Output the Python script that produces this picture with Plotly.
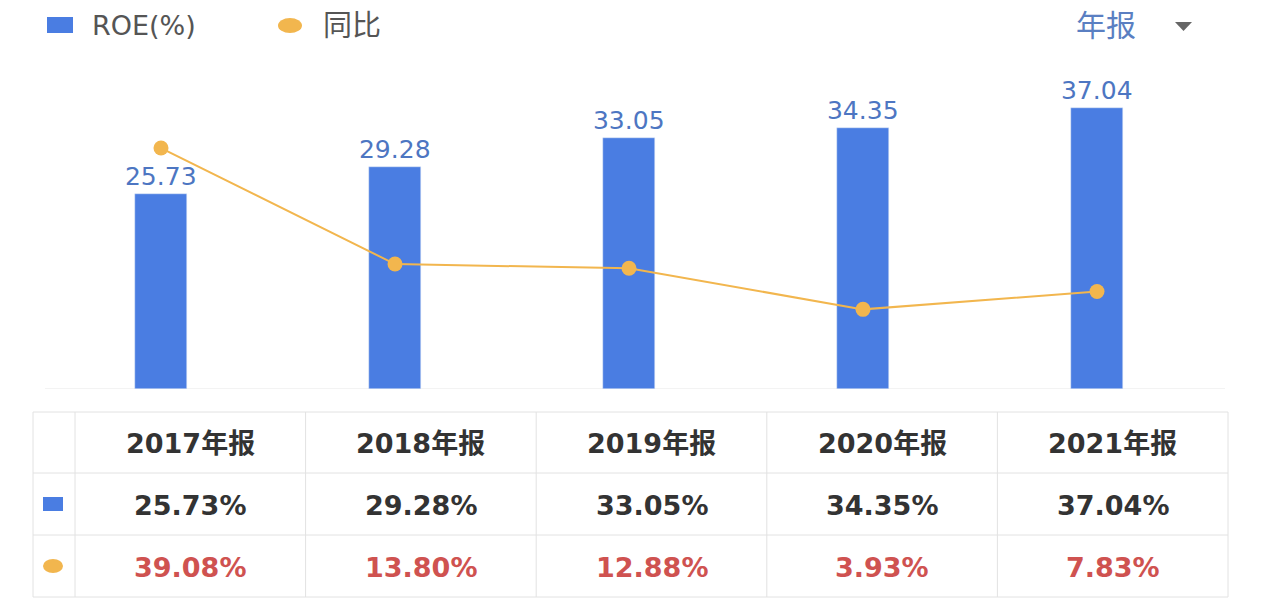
import plotly.graph_objects as go

# ---------------- data ----------------
years = ["2017年报", "2018年报", "2019年报", "2020年报", "2021年报"]
roe = [25.73, 29.28, 33.05, 34.35, 37.04]
yoy = [39.08, 13.80, 12.88, 3.93, 7.83]
roe_name = "ROE(%)"
yoy_name = "同比"
period_label = "年报"

# ---------------- style ----------------
W, H = 1269, 608
BLUE = "#4a7de2"
ORANGE = "#f2b64e"
LABEL_BLUE = "#4d76c2"
GRID = "#e2e2e2"
DARK = "#333333"
RED = "#cf5250"
FONT = "DejaVu Sans, Noto Sans CJK SC, sans-serif"


def fx(px):
    return px / W


def fy(py):
    return 1 - py / H


fig = go.Figure()
fig.add_trace(go.Bar(
    x=years, y=roe, name=roe_name, width=0.222, marker_color=BLUE,
    text=[f"{v:.2f}" for v in roe], textposition="outside", constraintext="none",
    textfont=dict(color=LABEL_BLUE, size=25, family=FONT),
    cliponaxis=False, yaxis="y", hoverinfo="skip", showlegend=False,
))
fig.add_trace(go.Scatter(
    x=years, y=yoy, name=yoy_name, mode="lines+markers",
    line=dict(color=ORANGE, width=2), marker=dict(size=15, color=ORANGE),
    yaxis="y2", hoverinfo="skip", showlegend=False, cliponaxis=False,
))

shapes = []
annotations = []

# baseline
shapes.append(dict(type="line", xref="paper", yref="y", x0=fx(45), x1=fx(1225), y0=0, y1=0,
                   line=dict(color="#e6e6e6", width=1), layer="below"))

# legend
shapes.append(dict(type="rect", xref="paper", yref="paper", x0=fx(47), x1=fx(73), y0=fy(33), y1=fy(17),
                   fillcolor=BLUE, line=dict(width=0)))
annotations.append(dict(text=roe_name, xref="paper", yref="paper", x=fx(90), y=fy(26), xanchor="left",
                        yanchor="middle", showarrow=False, font=dict(size=27, color="#555555", family=FONT)))
shapes.append(dict(type="circle", xref="paper", yref="paper", x0=fx(278), x1=fx(302), y0=fy(33), y1=fy(18),
                   fillcolor=ORANGE, line=dict(width=0)))
annotations.append(dict(text=yoy_name, xref="paper", yref="paper", x=fx(321), y=fy(26), xanchor="left",
                        yanchor="middle", showarrow=False, font=dict(size=29, color="#555555", family=FONT)))

# period selector
annotations.append(dict(text=period_label, xref="paper", yref="paper", x=fx(1106), y=fy(25), xanchor="center",
                        yanchor="middle", showarrow=False, font=dict(size=30, color="#5a7fc2", family=FONT)))
shapes.append(dict(type="path", xref="paper", yref="paper",
                   path=f"M {fx(1175)},{fy(22)} L {fx(1192)},{fy(22)} L {fx(1183.5)},{fy(31)} Z",
                   fillcolor="#666666", line=dict(width=0)))

# table geometry
t_left, t_first, t_right = 33, 75, 1228
row_edges = [412, 473, 535, 597]
ncol = len(years)
colw = (t_right - t_first) / ncol
for ry in row_edges:
    shapes.append(dict(type="line", xref="paper", yref="paper", x0=fx(t_left), x1=fx(t_right),
                       y0=fy(ry), y1=fy(ry), line=dict(color=GRID, width=1)))
col_edges = [t_left] + [t_first + i * colw for i in range(ncol + 1)]
for cx in col_edges:
    shapes.append(dict(type="line", xref="paper", yref="paper", x0=fx(cx), x1=fx(cx),
                       y0=fy(row_edges[0]), y1=fy(row_edges[-1]), line=dict(color=GRID, width=1)))

row_centers = [(row_edges[i] + row_edges[i + 1]) / 2 for i in range(3)]
# row markers
shapes.append(dict(type="rect", xref="paper", yref="paper", x0=fx(43), x1=fx(63),
                   y0=fy(row_centers[1] + 7), y1=fy(row_centers[1] - 7), fillcolor=BLUE, line=dict(width=0)))
shapes.append(dict(type="circle", xref="paper", yref="paper", x0=fx(43), x1=fx(63),
                   y0=fy(row_centers[2] + 7), y1=fy(row_centers[2] - 7), fillcolor=ORANGE, line=dict(width=0)))

rows = [
    (years, DARK),
    ([f"{v:.2f}%" for v in roe], DARK),
    ([f"{v:.2f}%" for v in yoy], RED),
]
for r, (vals, color) in enumerate(rows):
    for i, v in enumerate(vals):
        annotations.append(dict(text=f"<b>{v}</b>", xref="paper", yref="paper",
                                x=fx(t_first + (i + 0.5) * colw), y=fy(row_centers[r] + 1),
                                xanchor="center", yanchor="middle", showarrow=False,
                                font=dict(size=27, color=color, family=FONT)))

fig.update_layout(
    width=W, height=H,
    margin=dict(l=0, r=0, t=0, b=0),
    paper_bgcolor="white", plot_bgcolor="white",
    bargap=0,
    xaxis=dict(domain=[fx(44), fx(1214)], range=[-0.5, 4.5], visible=False, type="category"),
    yaxis=dict(domain=[fy(389), fy(60)], range=[0, 43.37], visible=False),
    yaxis2=dict(domain=[fy(389), fy(60)], range=[-13.42, 58.26], visible=False, overlaying="y"),
    shapes=shapes,
    annotations=annotations,
    showlegend=False,
)

fig.write_html("out.html", config={"displayModeBar": False})
